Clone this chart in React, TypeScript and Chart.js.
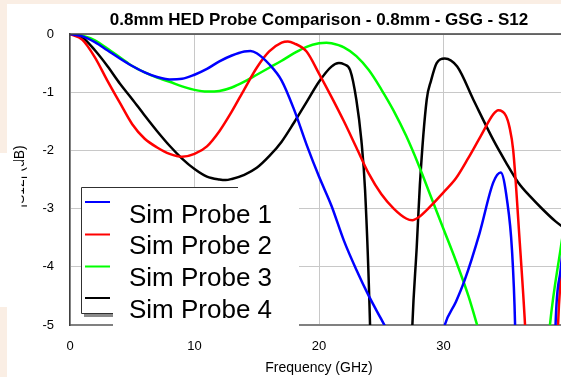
import React, { useEffect, useRef } from "react";
import { Chart, registerables } from "chart.js";

Chart.register(...registerables);

const FONT = "'Liberation Sans', Arial, sans-serif";
const TITLE = "0.8mm HED Probe Comparison - 0.8mm - GSG - S12";
const X_TITLE = "Frequency (GHz)";
const Y_TITLE = "|S12| (dB)";
const X_TICKS = [0, 10, 20, 30, 40];
const Y_TICKS = [0, -1, -2, -3, -4, -5];
const SERIES_NAMES = ["Sim Probe 1", "Sim Probe 2", "Sim Probe 3", "Sim Probe 4"];
const SERIES_COLORS = ["#0000ff", "#ff0000", "#00ff00", "#000000"];

const probe1Freq = [0, 1, 2, 3, 4, 5, 6, 7, 8, 9, 10, 11, 12, 13, 14, 14.5, 15, 16, 17, 18, 19, 20, 21, 22, 23, 24, 25, 26, 27, 28.5, 29.5, 30.1, 31, 31.7, 32.9, 34, 34.6, 35.1, 35.5, 35.75, 36, 37, 38, 38.7, 39, 39.4, 40];
const probe1Db = [0, -0.04, -0.14, -0.28, -0.42, -0.55, -0.66, -0.74, -0.78, -0.77, -0.7, -0.6, -0.47, -0.37, -0.3, -0.29, -0.33, -0.52, -0.8, -1.3, -1.9, -2.45, -2.95, -3.55, -4.05, -4.5, -4.9, -5.3, -5.7, -6.0, -5.6, -5.0, -4.6, -4.23, -3.42, -2.55, -2.38, -2.85, -3.71, -5.0, -8, -20, -15, -8, -5, -4.06, -3];

const probe2Freq = [0, 1, 2, 3, 4, 5, 6, 7, 8, 9, 10, 11, 12, 13, 14, 15, 16, 17, 17.5, 18, 19, 20, 21, 22, 23, 24, 25, 26, 27, 27.5, 28, 29, 30, 31, 32, 33, 34, 34.4, 35, 35.3, 35.6, 36.1, 36.55, 37, 38, 38.7, 39.2, 39.45, 40];
const probe2Db = [0, -0.1, -0.4, -0.8, -1.18, -1.55, -1.8, -1.95, -2.06, -2.11, -2.06, -1.93, -1.67, -1.33, -0.95, -0.58, -0.3, -0.15, -0.13, -0.16, -0.3, -0.68, -1.08, -1.5, -1.95, -2.4, -2.75, -3.0, -3.17, -3.2, -3.15, -2.95, -2.72, -2.48, -2.13, -1.75, -1.38, -1.31, -1.4, -1.6, -2.0, -3.5, -5, -7, -13, -9, -5, -4.1, -2.5];

const probe3Freq = [0, 1, 2, 3, 4, 5, 6, 7, 8, 9, 10, 11, 12, 13, 14, 15, 16, 17, 18, 19, 20, 20.6, 21, 22, 23, 24, 25, 26, 27, 28, 29, 30, 31, 32, 32.7, 33.5, 35, 36.5, 37.8, 38.55, 39.4, 40];
const probe3Db = [0, -0.03, -0.11, -0.25, -0.4, -0.55, -0.66, -0.75, -0.82, -0.9, -0.96, -0.99, -0.98, -0.92, -0.82, -0.7, -0.58, -0.46, -0.33, -0.22, -0.16, -0.15, -0.16, -0.23, -0.38, -0.62, -0.95, -1.32, -1.75, -2.25, -2.8, -3.35, -3.9, -4.5, -5, -5.6, -7, -8, -7, -5, -3.7, -2.9];

const probe4Freq = [0, 1, 2, 3, 4, 5, 6, 7, 8, 9, 10, 11, 12, 12.5, 13, 14, 15, 16, 17, 18, 19, 20, 21, 21.6, 22, 22.5, 23, 23.4, 23.7, 24.1, 24.5, 25.5, 26.5, 27.1, 27.5, 27.85, 28.1, 28.65, 29, 29.45, 30.1, 31.1, 32.4, 34, 35, 36, 37, 38, 39, 40];
const probe4Db = [0, -0.06, -0.28, -0.55, -0.85, -1.12, -1.4, -1.67, -1.92, -2.14, -2.32, -2.45, -2.5, -2.51, -2.49, -2.42, -2.3, -2.1, -1.85, -1.52, -1.17, -0.82, -0.56, -0.5, -0.52, -0.62, -1.13, -1.82, -2.68, -5, -9, -20, -15, -8, -5, -3.66, -2.6, -1.13, -0.8, -0.5, -0.42, -0.56, -1.13, -1.82, -2.2, -2.55, -2.8, -3.02, -3.22, -3.38];

const SERIES_FREQ = [probe1Freq, probe2Freq, probe3Freq, probe4Freq];
const SERIES_DB = [probe1Db, probe2Db, probe3Db, probe4Db];

const BEIGE = "#faeee4";

const decorPlugin = {
  id: "decor",
  beforeDraw(chart: any) {
    const ctx = chart.ctx;
    ctx.save();
    ctx.fillStyle = "#ffffff";
    ctx.fillRect(0, 0, chart.width, chart.height);
    ctx.fillStyle = BEIGE;
    ctx.fillRect(0, 0, chart.width, 4);
    ctx.fillRect(0, 0, 7, 153);
    ctx.fillRect(0, 307, 7, chart.height - 307);
    ctx.restore();
  },
  afterDraw(chart: any) {
    const ctx = chart.ctx;
    const a = chart.chartArea;
    const cx = (a.left + a.right) / 2;
    ctx.save();
    // top frame line
    ctx.strokeStyle = "#404040";
    ctx.lineWidth = 1.5;
    ctx.beginPath();
    ctx.moveTo(a.left, a.top);
    ctx.lineTo(a.right, a.top);
    ctx.stroke();

    // title
    ctx.fillStyle = "#000";
    ctx.textAlign = "center";
    ctx.textBaseline = "alphabetic";
    ctx.font = `bold 17px ${FONT}`;
    ctx.fillText(TITLE, cx, 25);

    // x title
    ctx.font = `14px ${FONT}`;
    ctx.fillText(X_TITLE, cx, 372);

    // y title (partly hidden by overlapping panel)
    ctx.save();
    ctx.translate(23.5, 176.5);
    ctx.rotate(-Math.PI / 2);
    ctx.font = `14px ${FONT}`;
    ctx.fillText(Y_TITLE, 0, 0);
    ctx.restore();
    ctx.fillStyle = "#ffffff";
    ctx.fillRect(0, 161, 21.5, 146);

    // legend frame
    ctx.fillStyle = "#ffffff";
    ctx.fillRect(81, 187, 159, 127);
    ctx.fillStyle = "#8a8a8a";
    ctx.fillRect(84, 314, 30, 3);
    ctx.strokeStyle = "#303030";
    ctx.lineWidth = 1;
    ctx.beginPath();
    ctx.moveTo(81.5, 313.5);
    ctx.lineTo(81.5, 187.5);
    ctx.lineTo(238, 187.5);
    ctx.moveTo(81.5, 313.5);
    ctx.lineTo(113, 313.5);
    ctx.stroke();

    // legend text panel
    ctx.fillStyle = "#ffffff";
    ctx.fillRect(113, 190, 186, 142);

    const ds = chart.data.datasets;
    const rowY = [202, 234.5, 266.5, 298];
    const baseY = [222.7, 254.4, 286.1, 317.8];
    ctx.font = `26px ${FONT}`;
    ctx.textAlign = "left";
    ctx.textBaseline = "alphabetic";
    ds.forEach((d: any, i: number) => {
      ctx.strokeStyle = d.borderColor;
      ctx.lineWidth = 2;
      ctx.beginPath();
      ctx.moveTo(85, rowY[i]);
      ctx.lineTo(110, rowY[i]);
      ctx.stroke();
      ctx.fillStyle = "#000";
      ctx.fillText(d.label, 129, baseY[i]);
    });
    ctx.restore();
  },
};

export default function App() {
  const ref = useRef<HTMLCanvasElement | null>(null);
  useEffect(() => {
    if (!ref.current) return;
    const datasets = SERIES_NAMES.map((name, i) => ({
      label: name,
      data: SERIES_FREQ[i].map((f, j) => ({ x: f, y: SERIES_DB[i][j] })),
      borderColor: SERIES_COLORS[i],
      backgroundColor: SERIES_COLORS[i],
      borderWidth: 2.5,
      pointRadius: 0,
      fill: false,
      cubicInterpolationMode: "monotone" as const,
      tension: 0.4,
    }));
    const chart = new Chart(ref.current, {
      type: "line",
      data: { datasets },
      plugins: [decorPlugin],
      options: {
        animation: false,
        responsive: false,
        maintainAspectRatio: false,
        layout: { padding: { left: 0, top: 34, right: 12, bottom: 0 } },
        plugins: {
          legend: { display: false },
          title: { display: false },
          tooltip: { enabled: false },
        },
        scales: {
          x: {
            type: "linear",
            min: X_TICKS[0],
            max: X_TICKS[X_TICKS.length - 1],
            afterFit: (s: any) => {
              s.height = 52;
              s.paddingLeft = 0;
              s.paddingRight = 0;
            },
            afterBuildTicks: (s: any) => {
              s.ticks = X_TICKS.map((v) => ({ value: v }));
            },
            grid: { color: "#c8c8c8", lineWidth: 1, drawTicks: false },
            border: { color: "#808080", width: 2 },
            ticks: {
              padding: 14,
              color: "#000",
              font: { family: FONT, size: 13 },
              maxRotation: 0,
              autoSkip: false,
            },
          },
          y: {
            type: "linear",
            min: Y_TICKS[Y_TICKS.length - 1],
            max: Y_TICKS[0],
            afterFit: (s: any) => {
              s.width = 70;
              s.paddingTop = 0;
              s.paddingBottom = 0;
            },
            afterBuildTicks: (s: any) => {
              s.ticks = Y_TICKS.map((v) => ({ value: v }));
            },
            grid: { color: "#c8c8c8", lineWidth: 1, drawTicks: false },
            border: { color: "#404040", width: 1.5 },
            ticks: {
              padding: 16,
              color: "#000",
              font: { family: FONT, size: 13 },
              autoSkip: false,
            },
          },
        },
      },
    });
    return () => chart.destroy();
  }, []);

  return (
    <div
      style={{
        position: "fixed",
        left: 0,
        top: 0,
        width: 561,
        height: 377,
        overflow: "hidden",
        background: "#ffffff",
      }}
    >
      <canvas ref={ref} width={580} height={377} style={{ display: "block", width: 580, height: 377 }} />
    </div>
  );
}
